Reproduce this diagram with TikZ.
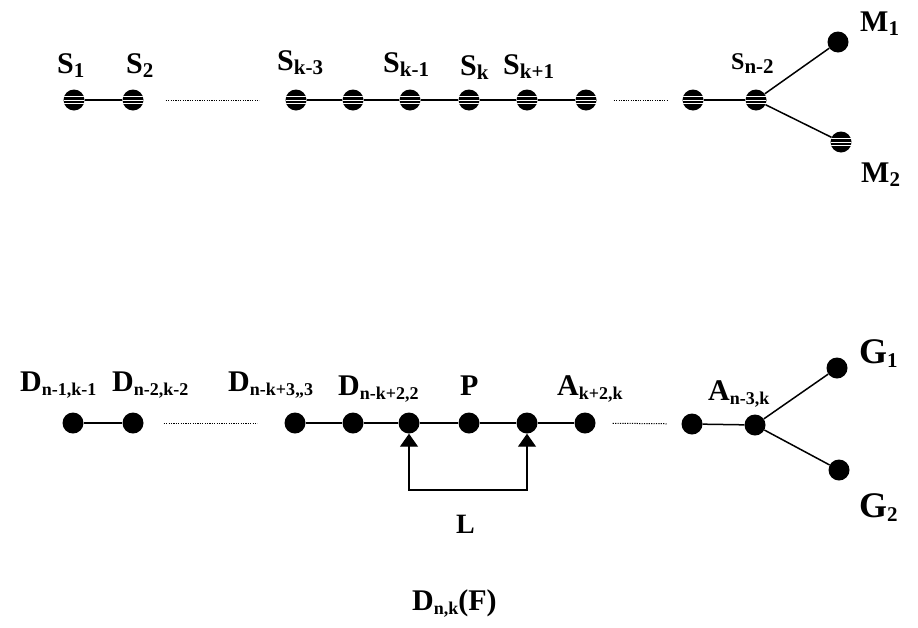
\documentclass[tikz,border=0pt]{standalone}
\usepackage{fontspec}
\setmainfont{Liberation Serif}
\usetikzlibrary{arrows.meta}
\newcommand{\sbs}[1]{\raisebox{-4pt}{\fontsize{21}{21}\selectfont #1}}
\newcommand{\sbd}[1]{\raisebox{-4pt}{\fontsize{18}{18}\selectfont #1}}
\tikzset{
  vnode/.style={circle, fill=black, minimum size=21pt, inner sep=0pt},
  striped/.style={vnode, path picture={
      \foreach \d in {-3.5,0,3.5}{\draw[white,line width=0.45pt]
        ([yshift=\d pt]path picture bounding box.west) -- ([yshift=\d pt]path picture bounding box.east);}}},
  link/.style={line width=1.5pt},
  dotline/.style={line width=1pt, dash pattern=on 1.2pt off 1.2pt},
  lbl/.style={anchor=base west, inner sep=0pt, font=\fontsize{30}{30}\selectfont\bfseries},
  bigtri/.tip={Triangle[width=18pt,length=13pt]}
}
\begin{document}
\begin{tikzpicture}[x=1pt,y=-1pt]
\useasboundingbox (0,0) rectangle (918,627);
% top row
\node[striped] (s1)  at (74,100) {};
\node[striped] (s2)  at (133,100) {};
\node[striped] (sk3) at (296,100) {};
\node[striped] (sk2) at (353,100) {};
\node[striped] (sk1) at (410,100) {};
\node[striped] (sk)  at (469,100) {};
\node[striped] (skp) at (527,100) {};
\node[striped] (skq) at (586,100) {};
\node[striped] (sn3) at (693,100) {};
\node[striped] (sn2) at (756,100) {};
\node[vnode]   (m1)  at (838,42) {};
\node[striped] (m2)  at (841,142) {};
\draw[link] (s1) -- (s2);
\draw[link] (sk3) -- (sk2) -- (sk1) -- (sk) -- (skp) -- (skq);
\draw[link] (sn3) -- (sn2);
\draw[link] (sn2) -- (m1);
\draw[link] (sn2) -- (m2);
\draw[dotline, shorten <=22pt, shorten >=26pt] (s2) -- (sk3);
\draw[dotline, shorten <=17pt, shorten >=15pt] (skq) -- (sn3);
\node[lbl] (ls1) at (57,73) {S\sbs{1}};
\node[lbl] (ls2) at (126,73) {S\sbs{2}};
\node[lbl] (lsk3) at (277,70) {S\sbs{k-3}};
\node[lbl] (lsk1) at (383,72) {S\sbs{k-1}};
\node[lbl] (lsk) at (460,75) {S\sbs{k}};
\node[lbl] (lskp) at (503,74) {S\sbs{k+1}};
\node[lbl, font=\fontsize{24}{24}\selectfont\bfseries] (lsn2) at (731,69) {S\sbs{n-2}};
\node[lbl] (lm1) at (860,31) {M\sbs{1}};
\node[lbl] (lm2) at (861,182) {M\sbs{2}};
% bottom row
\node[vnode] (d1) at (73,423) {};
\node[vnode] (d2) at (133,423) {};
\node[vnode] (d3) at (295,423) {};
\node[vnode] (d4) at (353,423) {};
\node[vnode] (d5) at (409,423) {};
\node[vnode] (p)  at (469,423) {};
\node[vnode] (a1) at (527,423) {};
\node[vnode] (a2) at (585,423) {};
\node[vnode] (a3) at (692,424) {};
\node[vnode] (a4) at (755,425) {};
\node[vnode] (g1) at (837,368) {};
\node[vnode] (g2) at (839,470) {};
\draw[link] (d1) -- (d2);
\draw[link] (d3) -- (d4) -- (d5) -- (p) -- (a1) -- (a2);
\draw[link] (a3) -- (a4);
\draw[link] (a4) -- (g1);
\draw[link] (a4) -- (g2);
\draw[dotline, shorten <=20pt, shorten >=27pt] (d2) -- (d3);
\draw[dotline, shorten <=17pt, shorten >=14pt] (a2) -- (a3);
\coordinate (c1) at (409,490);
\coordinate (c2) at (527,490);
\draw[line width=1.2pt, {bigtri}-{bigtri}] (d5.south) -- (c1) -- (c2) -- (a1.south);
\node[lbl] (ld1) at (20,391) {D\sbd{n-1,k-1}};
\node[lbl] (ld2) at (112,391) {D\sbd{n-2,k-2}};
\node[lbl] (ld3) at (228,391) {D\sbd{n-k+3,,3}};
\node[lbl] (ld4) at (338,395) {D\sbd{n-k+2,2}};
\node[lbl] (lp) at (460,395) {P};
\node[lbl] (la1) at (557,395) {A\sbd{k+2,k}};
\node[lbl] (la4) at (708,400) {A\sbd{n-3,k}};
\node[lbl, font=\fontsize{36}{36}\selectfont\bfseries] (lg1) at (859,363) {G\sbs{1}};
\node[lbl, font=\fontsize{36}{36}\selectfont\bfseries] (lg2) at (859,517) {G\sbs{2}};
\node[lbl, font=\fontsize{28}{28}\selectfont\bfseries] (ll) at (456,533) {L};
\node[lbl] (title) at (412,610) {D\sbd{n,k}(F)};
\end{tikzpicture}
\end{document}
